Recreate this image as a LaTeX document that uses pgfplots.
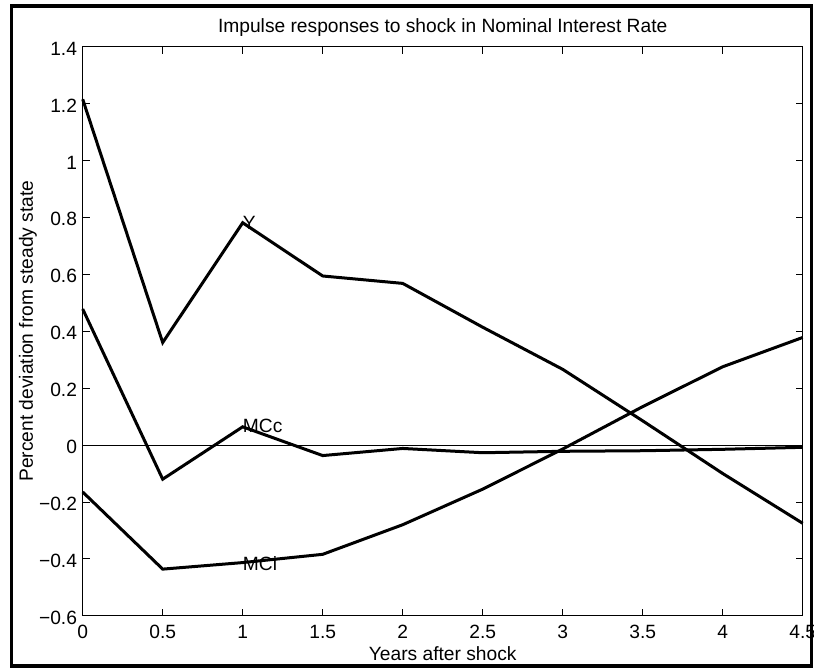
\documentclass[border=0pt]{standalone}
\usepackage{pgfplots}
\pgfplotsset{compat=1.18}
\usepackage{fontspec}
\setmainfont{Liberation Sans}
\begin{document}
\begin{tikzpicture}[font=\fontsize{19.2}{23}\selectfont]
\path[use as bounding box] (-82.7pt,-51.2pt) rectangle (731.3pt,615.8pt);
\begin{axis}[
  scale only axis,
  width=720pt, height=569.2pt,
  xmin=0, xmax=4.5, ymin=-0.6, ymax=1.4,
  axis line style={line width=0.9pt, black},
  xtick={0,0.5,1,1.5,2,2.5,3,3.5,4,4.5},
  xticklabels={0,0.5,1,1.5,2,2.5,3,3.5,4,4.5},
  ytick={-0.6,-0.4,-0.2,0,0.2,0.4,0.6,0.8,1,1.2,1.4},
  yticklabels={−0.6,−0.4,−0.2,0,0.2,0.4,0.6,0.8,1,1.2,1.4},
  tick align=inside,
  major tick length=7pt,
  every tick/.style={black, line width=0.8pt},
  xticklabel style={anchor=base, yshift=-23pt, inner sep=0pt},
  yticklabel style={anchor=east, inner sep=0pt, xshift=-5.5pt, yshift=-2pt},
  clip=false,
]
\addplot[black, line width=0.8pt] coordinates {(0,0) (4.5,0)};
\addplot[black, line width=3pt, line join=miter] coordinates {
(0,1.215) (0.5,0.360) (1,0.781) (1.5,0.594) (2,0.568) (2.5,0.414) (3,0.266) (3.5,0.085) (4,-0.100) (4.5,-0.275)};
\addplot[black, line width=3pt, line join=miter] coordinates {
(0,0.478) (0.5,-0.120) (1,0.064) (1.5,-0.037) (2,-0.012) (2.5,-0.027) (3,-0.022) (3.5,-0.020) (4,-0.015) (4.5,-0.008)};
\addplot[black, line width=3pt, line join=miter] coordinates {
(0,-0.165) (0.5,-0.436) (1,-0.413) (1.5,-0.384) (2,-0.280) (2.5,-0.155) (3,-0.014) (3.5,0.135) (4,0.275) (4.5,0.378)};
\node[anchor=west, inner sep=0pt] at (axis cs:1,0.78) {Y};
\node[anchor=west, inner sep=0pt] at (axis cs:1,0.066) {MCc};
\node[anchor=west, inner sep=0pt] at (axis cs:1,-0.415) {MCi};
\end{axis}
\node[anchor=base, inner sep=0pt] at (360pt,583.5pt) {Impulse responses to shock in Nominal Interest Rate};
\node[anchor=base, inner sep=0pt] at (360pt,-44.2pt) {Years after shock};
\node[anchor=base, inner sep=0pt, rotate=90] at (-49.7pt,284.6pt) {Percent deviation from steady state};
\draw[line width=3.6pt] (-71.2pt,-50.2pt) rectangle (728.8pt,609.8pt);
\end{tikzpicture}
\end{document}
